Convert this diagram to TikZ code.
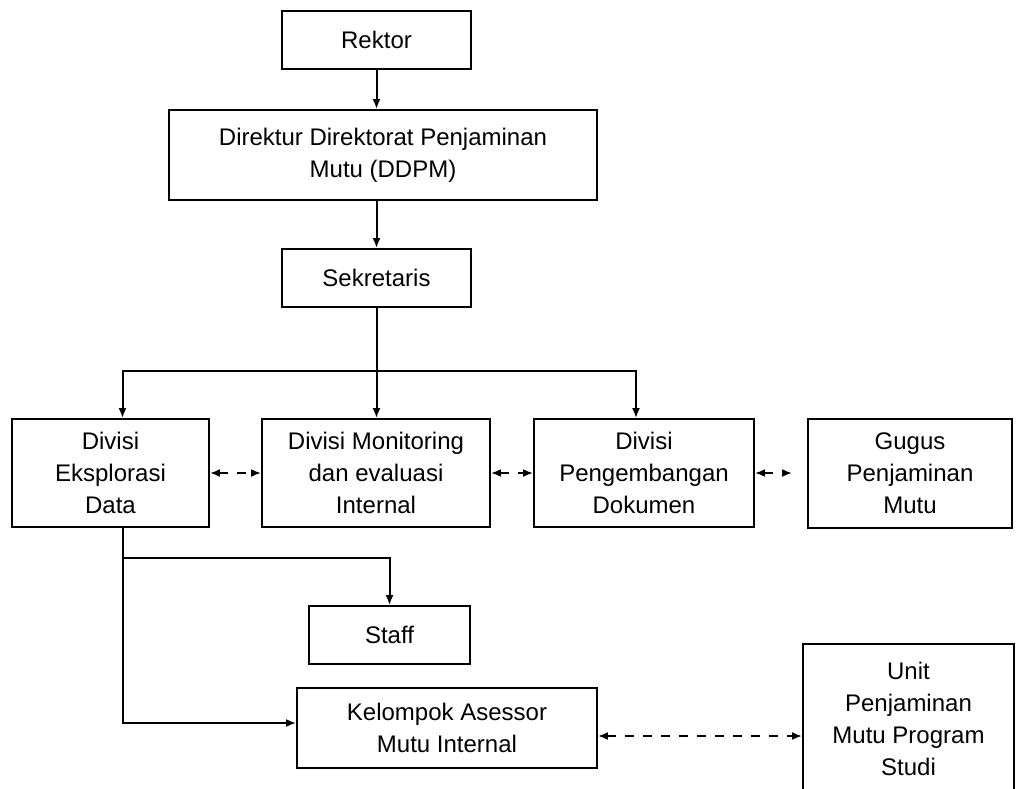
\documentclass[tikz,border=0pt]{standalone}
\usepackage{fontspec}
\setmainfont{Liberation Sans}
\usetikzlibrary{arrows.meta}
\begin{document}
\begin{tikzpicture}[x=1pt, y=-1pt, >={Latex[length=10pt,width=8pt]},
		box/.style={draw, line width=1.8pt, align=center, inner sep=0pt,
			font=\fontsize{24}{32}\selectfont},
		line/.style={line width=2pt},
		dasharr/.style={<->, line width=2pt, dash pattern=on 9pt off 9pt}]
		\useasboundingbox (0,0) rectangle (1018,789);
		% boxes
		\node[box, minimum width=189, minimum height=58] (rektor) at (376.5,40) {Rektor};
		\node[box, minimum width=428, minimum height=90] (ddpm) at (383,155)
		{Direktur Direktorat Penjaminan\\Mutu (DDPM)};
		\node[box, minimum width=189, minimum height=58] (sekretaris) at (376.5,278) {Sekretaris};
		\node[box, minimum width=197, minimum height=108] (eksplorasi) at (110.5,473)
		{Divisi\\Eksplorasi\\Data};
		\node[box, minimum width=228, minimum height=108] (monev) at (376,473)
		{Divisi Monitoring\\dan evaluasi\\Internal};
		\node[box, minimum width=220, minimum height=108] (pengembangan) at (644,473)
		{Divisi\\Pengembangan\\Dokumen};
		\node[box, minimum width=204, minimum height=109] (gugus) at (910,473.5)
		{Gugus\\Penjaminan\\Mutu};
		\node[box, minimum width=161, minimum height=58] (staff) at (389.5,635) {Staff};
		\node[box, minimum width=300, minimum height=80] (asessor) at (447,728)
		{Kelompok Asessor\\Mutu Internal};
		\node[box, minimum width=211, minimum height=149] (upmps) at (908.5,718.5)
		{Unit\\Penjaminan\\Mutu Program\\Studi};
		% top-down lines
		\draw[->, line] (rektor.south) -- (rektor.south |- ddpm.north);
		\draw[->, line] (ddpm.south -| rektor.south) -- (sekretaris.north);
		\path (sekretaris.south) ++(0,63) coordinate (bus);
		\draw[->, line] (sekretaris.south) -- (sekretaris.south |- monev.north);
		\draw[->, line] (bus) -| ([xshift=12pt]eksplorasi.north);
		\draw[->, line] (bus) -| ([xshift=-8pt]pengembangan.north);
		% below Eksplorasi Data
		\coordinate (ed) at ([xshift=12pt]eksplorasi.south);
		\path (ed) ++(0,30) coordinate (split);
		\draw[->, line] (ed) |- ([yshift=5pt]asessor.west);
		\draw[->, line] (split) -| (staff.north);
		% dashed links
		\draw[dasharr] (eksplorasi.east) -- (monev.west);
		\draw[dasharr] (monev.east) -- (pengembangan.west);
		\draw[dasharr, shorten >=15pt] (pengembangan.east) -- (pengembangan.east -| gugus.west);
		\draw[dasharr] ([yshift=-8pt]asessor.east) -- ([yshift=-8pt]asessor.east -| upmps.west);
	\end{tikzpicture}
\end{document}
